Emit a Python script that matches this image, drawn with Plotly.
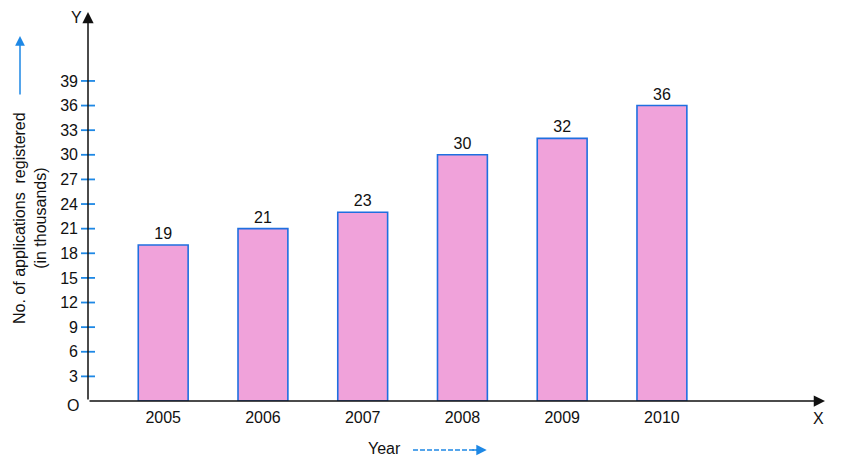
import plotly.graph_objects as go

years = [2005, 2006, 2007, 2008, 2009, 2010]
applications = [19, 21, 23, 30, 32, 36]
y_ticks = [3, 6, 9, 12, 15, 18, 21, 24, 27, 30, 33, 36, 39]

x_lo, x_hi = 2004.246, 2011.635
y_top = 47.4

fig = go.Figure()

fig.add_trace(
    go.Bar(
        x=years,
        y=applications,
        width=0.5,
        marker=dict(color="#f0a2da", line=dict(color="#1f6fe0", width=1.6)),
        text=applications,
        textposition="outside",
        textfont=dict(size=16, color="#111111"),
        cliponaxis=False,
    )
)

# blue tick marks crossing the y axis
fig.add_trace(
    go.Scatter(
        x=[x_lo] * len(y_ticks),
        y=y_ticks,
        mode="markers",
        marker=dict(symbol="line-ew-open", size=10, color="#1e88e5",
                    line=dict(color="#1e88e5", width=1.8)),
        cliponaxis=False,
        hoverinfo="skip",
    )
)

arrow = dict(showarrow=True, arrowhead=2, arrowsize=1.5, arrowwidth=1.5,
             arrowcolor="#111111", text="", axref="x", ayref="y")
fig.add_annotation(x=x_hi, y=0, ax=x_lo, ay=0, **arrow)
fig.add_annotation(x=x_lo, y=y_top, ax=x_lo, ay=0, **arrow)

fig.add_annotation(x=x_hi, y=0, xref="x", yref="y", text="X", showarrow=False,
                   xshift=-7, yshift=-17, font=dict(size=16))
fig.add_annotation(x=x_lo, y=y_top, xref="x", yref="y", text="Y", showarrow=False,
                   xshift=-12, yshift=-5, font=dict(size=16))
fig.add_annotation(x=x_lo, y=0, xref="x", yref="y", text="O", showarrow=False,
                   xshift=-15, yshift=-4, font=dict(size=16))

# y axis title with arrow
fig.add_annotation(xref="paper", yref="paper", x=0, y=0, xshift=-58, yshift=183,
                   xanchor="center", yanchor="middle",
                   text="No. of applications  registered<br>(in thousands)",
                   textangle=-90, showarrow=False, font=dict(size=16))
fig.add_annotation(xref="paper", yref="paper", x=0, y=0, xshift=-68, yshift=365,
                   ax=0, ay=60, showarrow=True, arrowhead=2, arrowsize=1.3,
                   arrowwidth=1.5, arrowcolor="#1e88e5", text="")

# x axis title with dashed arrow
fig.add_annotation(xref="paper", yref="paper", x=0, y=0, xshift=296, yshift=-47,
                   xanchor="center", yanchor="middle",
                   text="Year", showarrow=False, font=dict(size=16))
fig.add_shape(type="line", xref="paper", yref="paper", x0=0.441, x1=0.53,
              y0=-0.126, y1=-0.126,
              line=dict(color="#1e88e5", width=1.6, dash="5px,2px"))
fig.add_annotation(xref="paper", yref="paper", x=0.541, y=-0.126, ax=-16, ay=0,
                   showarrow=True, arrowhead=2, arrowsize=1.3, arrowwidth=1.6,
                   arrowcolor="#1e88e5", text="")

fig.update_layout(
    width=845,
    height=467,
    margin=dict(l=80, r=28, t=4, b=74),
    plot_bgcolor="white",
    paper_bgcolor="white",
    showlegend=False,
    font=dict(family="Liberation Sans, Arial", size=16, color="#111111"),
    xaxis=dict(range=[x_lo, x_hi], tickvals=years, ticktext=[str(y) for y in years],
               showgrid=False, zeroline=False, showline=False, ticks="",
               ticklabelstandoff=5, fixedrange=True),
    yaxis=dict(range=[0, y_top], tickvals=y_ticks, showgrid=False, zeroline=False,
               showline=False, ticks="", ticklabelstandoff=9, fixedrange=True,
               tickfont=dict(size=16)),
)

fig.write_html("out.html")
